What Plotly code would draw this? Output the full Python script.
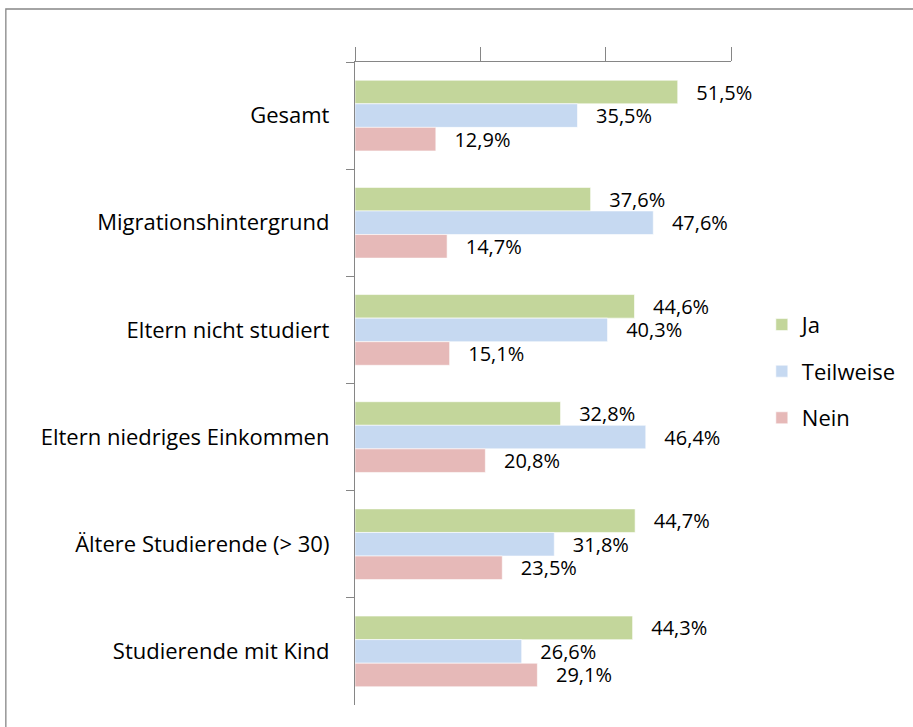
import plotly.graph_objects as go

categories = [
    "Gesamt",
    "Migrationshintergrund",
    "Eltern nicht studiert",
    "Eltern niedriges Einkommen",
    "Ältere Studierende (> 30)",
    "Studierende mit Kind",
]
ja = [51.5, 37.6, 44.6, 32.8, 44.7, 44.3]
teilweise = [35.5, 47.6, 40.3, 46.4, 31.8, 26.6]
nein = [12.9, 14.7, 15.1, 20.8, 23.5, 29.1]

series = [
    ("Ja", ja, "#C3D69B"),
    ("Teilweise", teilweise, "#C6D9F1"),
    ("Nein", nein, "#E6B9B8"),
]

FONT = "Open Sans, Noto Sans, sans-serif"
GRAY = "#868686"


def label(v):
    # german decimal comma, pushed a bit away from the bar end
    return "\u00a0\u00a0\u00a0" + f"{v:.1f}%".replace(".", ",")


fig = go.Figure()
for name, vals, color in series:
    fig.add_trace(
        go.Bar(
            name=name,
            y=categories,
            x=vals,
            orientation="h",
            marker=dict(color=color, line=dict(color="white", width=0.6)),
            text=[label(v) for v in vals],
            textposition="outside",
            constraintext="none",
            cliponaxis=False,
            textfont=dict(size=20, color="black", family=FONT),
            legendgroup=name,
            hoverinfo="skip",
        )
    )

fig.update_layout(
    width=913,
    height=727,
    margin=dict(l=355, r=179, t=62, b=22),
    paper_bgcolor="white",
    plot_bgcolor="white",
    barmode="group",
    bargap=0.34,
    bargroupgap=0,
    font=dict(family=FONT, size=22, color="black"),
    legend=dict(
        x=1.082,
        y=0.519,
        xanchor="left",
        yanchor="middle",
        traceorder="grouped",
        tracegroupgap=15,
        font=dict(size=22),
        itemwidth=30,
    ),
)

fig.update_xaxes(
    side="top",
    range=[0, 60],
    dtick=20,
    showticklabels=False,
    showgrid=False,
    zeroline=False,
    showline=True,
    linecolor=GRAY,
    linewidth=1.3,
    ticks="outside",
    ticklen=14,
    tickcolor=GRAY,
    tickwidth=1.3,
)
fig.update_yaxes(
    autorange="reversed",
    showgrid=False,
    zeroline=False,
    showline=True,
    linecolor=GRAY,
    linewidth=1.3,
    ticks="outside",
    tickson="boundaries",
    ticklen=8,
    tickcolor=GRAY,
    tickwidth=1.3,
    ticklabelstandoff=20,
    tickfont=dict(size=22, color="black"),
)

# outer chart frame
fig.add_shape(
    type="rect",
    xref="paper",
    yref="paper",
    x0=-0.9286,
    x1=1.5,
    y0=-0.05,
    y1=1.0824,
    line=dict(color=GRAY, width=1.3),
    fillcolor="rgba(0,0,0,0)",
    layer="below",
)

fig.write_html(
    "out.html",
    config={"displayModeBar": False},
    post_script="document.body.style.margin='0';",
)
